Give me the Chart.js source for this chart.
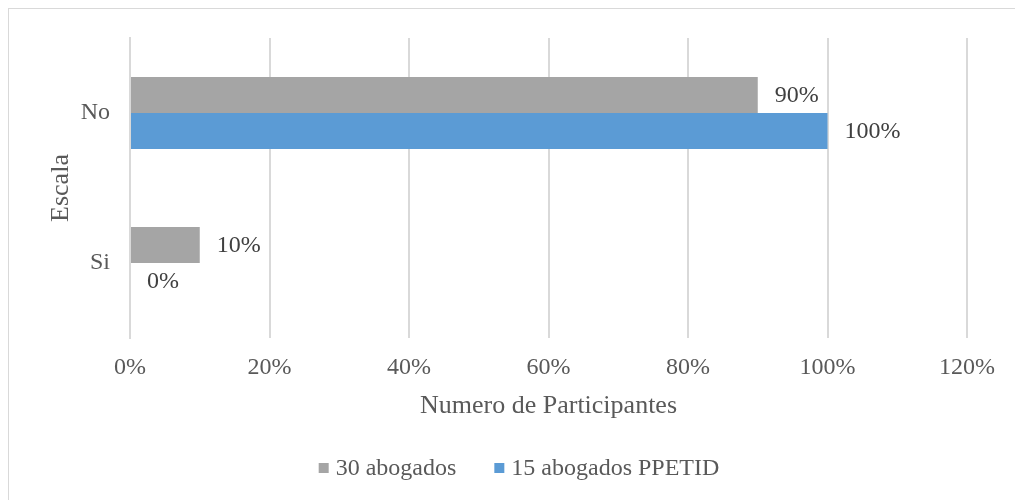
<!DOCTYPE html>
<html>
<head>
<meta charset="utf-8">
<script src="https://cdn.jsdelivr.net/npm/chart.js@4.4.0/dist/chart.umd.min.js"></script>
<style>
    html, body { margin: 0; padding: 0; background: #fff; }
    #wrap { position: relative; width: 1015px; height: 500px; overflow: hidden; }
    #frame { position: absolute; left: 8px; top: 8px; width: 1020px; height: 510px; border: 1px solid #d9d9d9; box-sizing: border-box; }
    canvas { position: absolute; left: 0; top: 0; }
</style>
</head>
<body>
<div id="wrap">
    <div id="frame"></div>
    <canvas id="chart" width="1015" height="500"></canvas>
</div>
<script>
// Chart data
const categories = ['No', 'Si'];
const seriesNames = ['30 abogados', '15 abogados PPETID'];
const abogados30 = [90, 10];
const abogadosPPETID = [100, 0];
const xTicks = [0, 20, 40, 60, 80, 100, 120];

const textColor = '#595959';
const serif = "'Liberation Serif', 'Times New Roman', serif";

// Draws the percent labels next to each bar
const barLabels = {
    id: 'barLabels',
    afterDatasetsDraw(chart) {
        const ctx = chart.ctx;
        ctx.save();
        ctx.font = `24px ${serif}`;
        ctx.fillStyle = '#404040';
        ctx.textAlign = 'left';
        ctx.textBaseline = 'middle';
        chart.data.datasets.forEach((ds, i) => {
            const meta = chart.getDatasetMeta(i);
            meta.data.forEach((bar, j) => {
                ctx.fillText(ds.data[j] + '%', bar.x + 17, bar.y + 1);
            });
        });
        ctx.restore();
    }
};

// Legend at the bottom, drawn by hand to get the tight box/text spacing
const bottomLegend = {
    id: 'bottomLegend',
    afterDraw(chart) {
        const ctx = chart.ctx;
        const box = 10, gap = 7, itemGap = 38;
        const y = 468;
        ctx.save();
        ctx.font = `24px ${serif}`;
        ctx.textBaseline = 'middle';
        ctx.textAlign = 'left';
        const items = chart.data.datasets.map(ds => ({
            text: ds.label,
            color: ds.backgroundColor,
            w: box + gap + ctx.measureText(ds.label).width
        }));
        const total = items.reduce((s, it) => s + it.w, 0) + itemGap * (items.length - 1);
        let x = 519 - total / 2;
        items.forEach(it => {
            ctx.fillStyle = it.color;
            ctx.fillRect(x, y - box / 2, box, box);
            ctx.fillStyle = textColor;
            ctx.fillText(it.text, x + box + gap, y + 1);
            x += it.w + itemGap;
        });
        ctx.restore();
    }
};

new Chart(document.getElementById('chart'), {
    type: 'bar',
    data: {
        labels: categories,
        datasets: [{
            label: seriesNames[0],
            data: abogados30,
            backgroundColor: '#a5a5a5',
            categoryPercentage: 0.48,
            barPercentage: 1
        }, {
            label: seriesNames[1],
            data: abogadosPPETID,
            backgroundColor: '#5b9bd5',
            categoryPercentage: 0.48,
            barPercentage: 1
        }]
    },
    options: {
        indexAxis: 'y',
        responsive: false,
        animation: false,
        layout: {
            padding: { left: 46, top: 38, right: 48, bottom: 78 }
        },
        plugins: {
            legend: { display: false },
            tooltip: { enabled: false }
        },
        scales: {
            x: {
                min: 0,
                max: 120,
                afterBuildTicks(scale) {
                    scale.ticks = xTicks.map(v => ({ value: v }));
                },
                ticks: {
                    color: textColor,
                    padding: 15,
                    font: { family: serif, size: 24 },
                    callback: v => v + '%'
                },
                grid: { color: '#d9d9d9', lineWidth: 2, drawTicks: false },
                border: { display: false },
                title: {
                    display: true,
                    text: 'Numero de Participantes',
                    color: textColor,
                    font: { family: serif, size: 26 },
                    padding: { top: 6, bottom: 0 }
                },
                afterFit(scale) {
                    scale.height = 84;
                }
            },
            y: {
                ticks: {
                    color: textColor,
                    padding: 20,
                    font: { family: serif, size: 24 }
                },
                grid: { display: false, drawTicks: false },
                border: { color: '#d9d9d9', width: 2 },
                title: {
                    display: true,
                    text: 'Escala',
                    color: textColor,
                    font: { family: serif, size: 26 },
                    padding: { top: 0, bottom: 12 }
                },
                afterFit(scale) {
                    scale.width = 84;
                }
            }
        }
    },
    plugins: [barLabels, bottomLegend]
});
</script>
</body>
</html>
